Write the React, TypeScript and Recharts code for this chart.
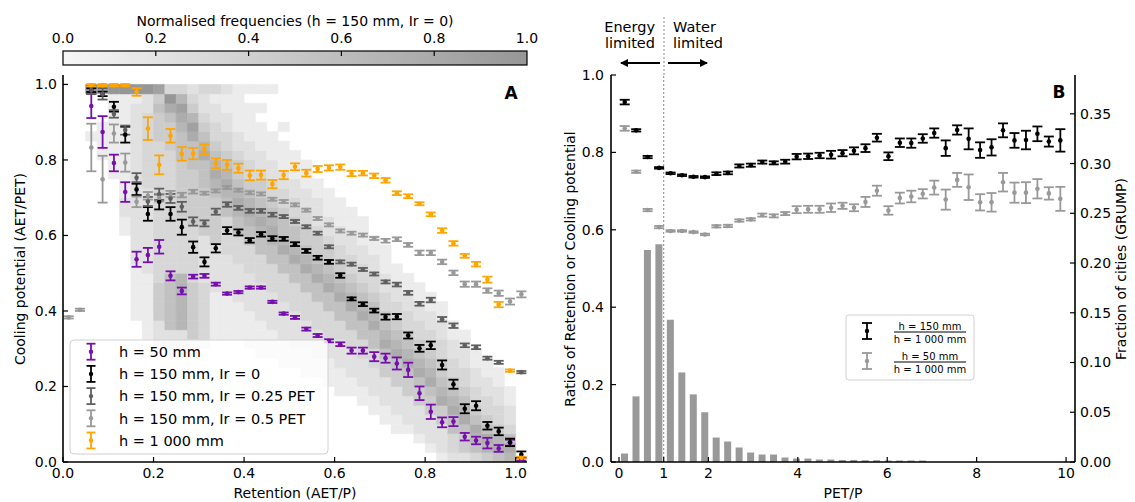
import React from 'react'
import {
  ScatterChart, ComposedChart, Scatter, Bar, XAxis, YAxis, ErrorBar, ReferenceArea, ReferenceLine,
} from 'recharts'

const FONT = 'DejaVu Sans, sans-serif'

// ---- panel A : retention bins (AET/P), bin centres ----
const retention = [0.0125, 0.0375, 0.0625, 0.0875, 0.1125, 0.1375, 0.1625, 0.1875, 0.2125, 0.2375, 0.2625,
  0.2875, 0.3125, 0.3375, 0.3625, 0.3875, 0.4125, 0.4375, 0.4625, 0.4875, 0.5125, 0.5375, 0.5625, 0.5875,
  0.6125, 0.6375, 0.6625, 0.6875, 0.7125, 0.7375, 0.7625, 0.7875, 0.8125, 0.8375, 0.8625, 0.8875, 0.9125,
  0.9375, 0.9625, 0.9875, 1.0125]

const h50 = [null, null, 0.943, 0.874, 0.792, 0.715, 0.537, 0.548, 0.570, 0.493, 0.453, 0.491, 0.493, 0.471, 0.446,
  0.450, 0.462, 0.462, 0.424, 0.393, 0.383, 0.352, 0.335, 0.321, 0.312, 0.295, 0.295, 0.279, 0.275, 0.261, 0.244,
  0.182, 0.133, 0.105, 0.107, 0.067, 0.057, 0.050, 0.036, 0.051, 0.007]
const h50Err = [null, null, 0.032, 0.042, 0.022, 0.026, 0.020, 0.019, 0.018, 0.012, 0.009, 0.005, 0.005, 0.004, 0.003,
  0.003, 0.003, 0.003, 0.003, 0.003, 0.004, 0.004, 0.004, 0.004, 0.005, 0.008, 0.008, 0.012, 0.012, 0.016, 0.019,
  0.018, 0.019, 0.013, 0.012, 0.010, 0.010, 0.014, 0.009, 0.008, 0.004]

const h150 = [null, null, 0.985, 0.975, 0.941, 0.867, 0.722, 0.657, 0.689, 0.657, 0.622, 0.569, 0.530, 0.566, 0.613,
  0.608, 0.587, 0.603, 0.592, 0.591, 0.577, 0.559, 0.541, 0.530, 0.494, 0.432, 0.418, 0.401, 0.384, 0.385, 0.335,
  0.301, 0.309, 0.257, 0.206, 0.141, 0.149, 0.096, 0.081, 0.052, 0.020]
const h150Err = [null, null, 0.005, 0.006, 0.013, 0.021, 0.015, 0.018, 0.020, 0.018, 0.020, 0.015, 0.012, 0.011, 0.009,
  0.008, 0.006, 0.006, 0.006, 0.005, 0.005, 0.005, 0.005, 0.005, 0.006, 0.004, 0.005, 0.005, 0.007, 0.007, 0.008,
  0.009, 0.010, 0.012, 0.012, 0.012, 0.012, 0.010, 0.010, 0.010, 0.008]

const ir25 = [null, null, 0.985, 0.975, 0.922, 0.879, 0.753, 0.690, 0.709, 0.698, 0.676, 0.637, 0.632, 0.663, 0.682,
  0.673, 0.665, 0.665, 0.655, 0.650, 0.637, 0.623, 0.606, 0.570, 0.530, 0.524, 0.510, 0.498, 0.477, 0.470, 0.448,
  0.419, 0.429, 0.378, 0.361, 0.309, 0.304, 0.275, 0.264, null, 0.238]
const ir25Err = [null, null, 0.010, 0.015, 0.010, 0.012, 0.012, 0.012, 0.015, 0.012, 0.013, 0.011, 0.008, 0.008, 0.006,
  0.005, 0.005, 0.005, 0.005, 0.004, 0.004, 0.004, 0.004, 0.004, 0.004, 0.004, 0.004, 0.004, 0.004, 0.005, 0.005,
  0.005, 0.006, 0.006, 0.006, 0.005, 0.005, 0.004, 0.004, null, 0.003]

const ir50 = [0.383, 0.403, 0.833, 0.749, 0.870, 0.793, 0.689, 0.705, 0.700, 0.710, 0.707, 0.716, 0.712, 0.718, 0.727,
  0.720, 0.713, 0.710, 0.696, 0.690, 0.681, 0.667, 0.645, 0.628, 0.612, 0.606, 0.601, 0.592, 0.586, 0.590, 0.575,
  0.554, 0.554, 0.530, 0.501, 0.471, 0.471, 0.454, 0.447, 0.425, 0.444]
const ir50Err = [0.003, 0.003, 0.063, 0.062, 0.024, 0.024, 0.014, 0.010, 0.010, 0.008, 0.006, 0.005, 0.004, 0.004, 0.004,
  0.004, 0.004, 0.004, 0.004, 0.004, 0.004, 0.004, 0.004, 0.004, 0.004, 0.004, 0.004, 0.004, 0.005, 0.005, 0.005,
  0.006, 0.006, 0.006, 0.006, 0.007, 0.007, 0.006, 0.007, 0.008, 0.008]

const h1000 = [null, null, 0.998, 0.998, 0.998, 0.998, 0.980, 0.883, 0.787, 0.864, 0.816, 0.817, 0.828, 0.791, 0.787,
  0.778, 0.759, 0.760, 0.736, 0.760, 0.782, 0.765, 0.776, 0.779, 0.781, 0.764, 0.765, 0.758, 0.746, 0.712, 0.704,
  0.684, 0.656, 0.613, 0.579, 0.546, 0.524, 0.483, 0.417, 0.242, 0.011]
const h1000Err = [null, null, 0.003, 0.003, 0.003, 0.003, 0.010, 0.030, 0.025, 0.018, 0.018, 0.015, 0.013, 0.013, 0.013,
  0.012, 0.013, 0.012, 0.011, 0.011, 0.009, 0.009, 0.008, 0.007, 0.007, 0.007, 0.006, 0.006, 0.006, 0.005, 0.005,
  0.004, 0.005, 0.006, 0.006, 0.005, 0.006, 0.008, 0.007, 0.003, 0.003]

// heatmap, one string per retention column (0.025 wide), rows from y=0 upwards (0.025 high), 0-9 shade
const heatCols = [
  '0000000000 0000000000 0000000000 0000000000 0',
  '0000000000 0000000000 0000000000 0000000000 0',
  '0000000000 0000000000 0000000000 0000100009 0',
  '0000000000 0000000000 0000000000 0011110007 2',
  '0000000000 0000000000 0000000000 1111111119 0',
  '0000000000 0000000000 0000112211 1111111119 0',
  '0000000000 0000011111 1222222222 2222222219 1',
  '0000000000 0001111111 2222222223 3333333229 1',
  '0000000000 0022244443 3333333333 3333444548 1',
  '0000000000 0022555555 3333333333 3334445793 0',
  '0000000000 0222666666 3333334444 4455567863 0',
  '0000000000 0114444443 3333344444 4555786432 0',
  '0000000000 0013333332 2222444445 5576543223 0',
  '0000000000 0001111122 2224444456 7654332213 0',
  '0000000000 0001111122 2233335567 6543322112 0',
  '0000000000 0001111222 2333556765 4432211111 0',
  '0000000000 0011112222 3335567654 3322111101 0',
  '0000000000 0111122223 3355676544 3221110101 0',
  '0000000000 0111222233 3556765433 2211100001 0',
  '0000000000 1112222333 5576554332 2111010000 0',
  '0000000000 1122223335 5765543322 1110000000 0',
  '0000000001 1122233355 7654433221 1100000000 0',
  '0000000001 1222333557 6544322211 0000000000 0',
  '0000000011 1223335576 5443221110 0000000000 0',
  '0000000111 2223355765 4332211100 0000000000 0',
  '0000000112 2233557654 3322111000 0000000000 0',
  '0000001122 2335576543 3221110000 0000000000 0',
  '0000011222 3355765433 2211000000 0000000000 0',
  '0000112224 4576543322 1110000000 0000000000 0',
  '0001122244 5765433221 1000000000 0000000000 0',
  '0001222445 7654332211 0000000000 0000000000 0',
  '0012224457 6543322110 0000000000 0000000000 0',
  '0122244576 5433221100 0000000000 0000000000 0',
  '1222447654 4332211000 0000000000 0000000000 0',
  '2335576543 3221100000 0000000000 0000000000 0',
  '2445765433 2211000000 0000000000 0000000000 0',
  '3567543322 1100000000 0000000000 0000000000 0',
  '4675433221 1000000000 0000000000 0000000000 0',
  '5764332211 0000000000 0000000000 0000000000 0',
  '6753221100 0000000000 0000000000 0000000000 0',
  '7532110000 0000000000 0000000000 0000000000 0',
]
const cellSize = 0.025

// ---- panel B : PET/P bins ----
const petP = [0.128, 0.385, 0.641, 0.897, 1.154, 1.410, 1.667, 1.923, 2.179, 2.436, 2.692, 2.949, 3.205, 3.462,
  3.718, 3.974, 4.231, 4.487, 4.744, 5.000, 5.256, 5.513, 5.769, 6.026, 6.282, 6.538, 6.795, 7.051, 7.308, 7.564,
  7.821, 8.077, 8.333, 8.590, 8.846, 9.103, 9.359, 9.615, 9.872]
const ratio150 = [0.930, 0.857, 0.788, 0.760, 0.746, 0.741, 0.737, 0.736, 0.745, 0.747, 0.765, 0.767, 0.775, 0.773,
  0.776, 0.789, 0.790, 0.792, 0.794, 0.798, 0.804, 0.811, 0.838, 0.790, 0.825, 0.824, 0.836, 0.850, 0.811, 0.858,
  0.835, 0.806, 0.813, 0.857, 0.831, 0.832, 0.848, 0.828, 0.831]
const ratio150Err = [0.006, 0.003, 0.003, 0.002, 0.002, 0.002, 0.002, 0.002, 0.0035, 0.0035, 0.004, 0.004, 0.004, 0.004,
  0.005, 0.007, 0.007, 0.007, 0.010, 0.008, 0.009, 0.010, 0.010, 0.010, 0.011, 0.012, 0.011, 0.012, 0.020, 0.012,
  0.027, 0.020, 0.021, 0.018, 0.019, 0.024, 0.019, 0.013, 0.029]
const ratio50 = [0.862, 0.750, 0.651, 0.607, 0.597, 0.597, 0.594, 0.588, 0.609, 0.610, 0.624, 0.627, 0.638, 0.636,
  0.642, 0.652, 0.653, 0.653, 0.657, 0.662, 0.657, 0.672, 0.701, 0.650, 0.682, 0.686, 0.693, 0.709, 0.678, 0.729,
  0.710, 0.671, 0.671, 0.723, 0.696, 0.696, 0.706, 0.694, 0.680]
const ratio50Err = [0.006, 0.003, 0.003, 0.003, 0.002, 0.002, 0.002, 0.002, 0.003, 0.003, 0.003, 0.003, 0.004, 0.004,
  0.004, 0.009, 0.009, 0.009, 0.011, 0.008, 0.009, 0.013, 0.013, 0.011, 0.014, 0.015, 0.012, 0.018, 0.026, 0.018,
  0.033, 0.021, 0.024, 0.024, 0.026, 0.027, 0.025, 0.016, 0.031]
const cityFrac = [0.0085, 0.066, 0.213, 0.219, 0.143, 0.090, 0.068, 0.050, 0.0246, 0.0206, 0.0146, 0.0095, 0.0075,
  0.0075, 0.0045, 0.0035, 0.0035, 0.0025, 0.0025, 0.002, 0.002, 0.0018, 0.0018, 0.0015, 0.0015, 0.0015, 0.0015,
  0, 0, 0, 0, 0, 0, 0, 0, 0, 0, 0, 0]

const ticksA = [0, 0.2, 0.4, 0.6, 0.8, 1.0]
const ticksBx = [0, 1, 2, 4, 6, 8, 10]
const ticksBl = [0, 0.2, 0.4, 0.6, 0.8, 1.0]
const ticksBr = [0, 0.05, 0.1, 0.15, 0.2, 0.25, 0.3, 0.35]
const cbarTicks = [0, 0.2, 0.4, 0.6, 0.8, 1.0]

const PURPLE = '#7510ad'
const ORANGE = '#ffa500'
const DARKGRAY = '#5f5f5f'
const LIGHTGRAY = '#999999'

const seriesA = [
  { name: 'h = 50 mm', color: PURPLE, y: h50, e: h50Err },
  { name: 'h = 150 mm, Ir = 0', color: '#000000', y: h150, e: h150Err },
  { name: 'h = 150 mm, Ir = 0.25 PET', color: DARKGRAY, y: ir25, e: ir25Err },
  { name: 'h = 150 mm, Ir = 0.5 PET', color: LIGHTGRAY, y: ir50, e: ir50Err },
  { name: 'h = 1 000 mm', color: ORANGE, y: h1000, e: h1000Err },
]

const shade = (d: number) => {
  const g = Math.round(247 - (d / 9) * 97)
  return `rgb(${g},${g},${g})`
}

const heatCells = heatCols.flatMap((col, k) =>
  col.replace(/ /g, '').split('').map((c, j) => ({ k, j, d: Number(c) })).filter((c) => c.d > 0))

const barData = petP.map((x, i) => ({ x, frac: cityFrac[i] }))
const b150 = petP.map((x, i) => ({ x, y: ratio150[i], e: ratio150Err[i] }))
const b50 = petP.map((x, i) => ({ x, y: ratio50[i], e: ratio50Err[i] }))

const tickStyle = { fill: '#000', fontSize: 14, fontFamily: FONT }
const axisLine = { stroke: '#000', strokeWidth: 1.6 }
const tickLine = { stroke: '#000', strokeWidth: 1.2 }

const dot = (color: string, r = 2.3) => (p: any) => <circle cx={p.cx} cy={p.cy} r={r} fill={color} />

function ErrIcon({ x, y, color, half = 8, cap = 4.5 }: { x: number; y: number; color: string; half?: number; cap?: number }) {
  return (
    <g stroke={color} strokeWidth={1.8}>
      <line x1={x} x2={x} y1={y - half} y2={y + half} />
      <line x1={x - cap} x2={x + cap} y1={y - half} y2={y - half} />
      <line x1={x - cap} x2={x + cap} y1={y + half} y2={y + half} />
      <circle cx={x} cy={y} r={2.2} fill={color} stroke="none" />
    </g>
  )
}

function Fraction({ x, y, top, bottom }: { x: number; y: number; top: string; bottom: string }) {
  return (
    <g fontSize={10} fontFamily={FONT} textAnchor="middle">
      <text x={x} y={y - 2.5}>{top}</text>
      <line x1={x - 36} x2={x + 36} y1={y} y2={y} stroke="#000" strokeWidth={1} />
      <text x={x} y={y + 10.5}>{bottom}</text>
    </g>
  )
}

export default function App() {
  return (
    <div style={{ position: 'absolute', left: 0, top: 0, width: 1135, height: 502, background: '#fff', fontFamily: FONT }}>
      <div style={{ position: 'absolute', left: 0, top: 0 }}>
        <ScatterChart width={560} height={502} margin={{ top: 75, right: 33, bottom: 0, left: 0 }}>
          <XAxis type="number" dataKey="x" domain={[0, 1.025]} ticks={ticksA} allowDataOverflow
            tickFormatter={(v: number) => v.toFixed(1)} height={40} tickSize={-5} tickMargin={11}
            tick={tickStyle} axisLine={axisLine} tickLine={tickLine} />
          <YAxis type="number" dataKey="y" domain={[0, 1.025]} ticks={ticksA} allowDataOverflow
            tickFormatter={(v: number) => v.toFixed(1)} width={63} tickSize={-5} tickMargin={11}
            tick={tickStyle} axisLine={axisLine} tickLine={tickLine} />
          <XAxis xAxisId="top" orientation="top" type="number" domain={[0, 1]} height={0} tick={false}
            tickLine={false} axisLine={axisLine} />
          <YAxis yAxisId="right" orientation="right" type="number" domain={[0, 1]} width={0} tick={false}
            tickLine={false} axisLine={axisLine} />
          {heatCells.map((c) => (
            <ReferenceArea key={`h-${c.k}-${c.j}`} x1={c.k * cellSize} x2={(c.k + 1) * cellSize}
              y1={c.j * cellSize} y2={(c.j + 1) * cellSize} fill={shade(c.d)} fillOpacity={1}
              stroke={shade(c.d)} strokeWidth={0.6} />
          ))}
          {seriesA.map((s) => (
            <Scatter key={s.name} name={s.name} isAnimationActive={false} shape={dot(s.color)}
              data={retention.map((x, i) => ({ x, y: s.y[i], e: s.e[i] })).filter((p) => p.y !== null)}>
              <ErrorBar dataKey="e" direction="y" width={5} stroke={s.color} strokeWidth={1.8} />
            </Scatter>
          ))}
        </ScatterChart>
      </div>

      <div style={{ position: 'absolute', left: 560, top: 0 }}>
        <ComposedChart width={575} height={502} data={barData} margin={{ top: 75, right: 0, bottom: 0, left: 0 }}>
          <XAxis type="number" dataKey="x" domain={[-0.179, 10.2]} ticks={ticksBx} allowDataOverflow
            height={40} tickSize={-5} tickMargin={11} tick={tickStyle} axisLine={axisLine} tickLine={tickLine} />
          <XAxis xAxisId="top" orientation="top" type="number" domain={[0, 1]} height={0} tick={false}
            tickLine={false} axisLine={axisLine} />
          <YAxis yAxisId="l" type="number" domain={[0, 1]} ticks={ticksBl} allowDataOverflow
            tickFormatter={(v: number) => v.toFixed(1)} width={51} tickSize={-5} tickMargin={12}
            tick={tickStyle} axisLine={axisLine} tickLine={tickLine} />
          <YAxis yAxisId="r" orientation="right" type="number" domain={[0, 0.389]} ticks={ticksBr} allowDataOverflow
            tickFormatter={(v: number) => v.toFixed(2)} width={60} tickSize={-5} tickMargin={10}
            tick={tickStyle} axisLine={axisLine} tickLine={tickLine} />
          <Bar yAxisId="r" dataKey="frac" fill="#999999" barSize={7} isAnimationActive={false} />
          <ReferenceLine yAxisId="l" x={1} stroke="#888" strokeDasharray="2 2" strokeWidth={1} />
          <Scatter yAxisId="l" data={b150} dataKey="y" isAnimationActive={false} shape={dot('#000000')}>
            <ErrorBar dataKey="e" direction="y" width={5} stroke="#000000" strokeWidth={1.8} />
          </Scatter>
          <Scatter yAxisId="l" data={b50} dataKey="y" isAnimationActive={false} shape={dot('#999999')}>
            <ErrorBar dataKey="e" direction="y" width={5} stroke="#999999" strokeWidth={1.8} />
          </Scatter>
        </ComposedChart>
      </div>

      <svg width={1135} height={502} style={{ position: 'absolute', left: 0, top: 0, pointerEvents: 'none' }}
        fontFamily={FONT}>
        <defs>
          <linearGradient id="cbar" x1="0" x2="1" y1="0" y2="0">
            <stop offset="0" stopColor={shade(0)} />
            <stop offset="1" stopColor={shade(9)} />
          </linearGradient>
          <marker id="arrow" markerWidth="8" markerHeight="8" refX="7" refY="4" orient="auto" markerUnits="userSpaceOnUse">
            <path d="M0,0 L8,4 L0,8 z" fill="#000" />
          </marker>
        </defs>

        {/* colour bar */}
        <text x={295} y={26} fontSize={14} textAnchor="middle">Normalised frequencies (h = 150 mm, Ir = 0)</text>
        <rect x={63} y={51} width={464} height={14} fill="url(#cbar)" stroke="#000" strokeWidth={1.2} />
        {cbarTicks.map((t) => (
          <g key={t}>
            {t > 0 && t < 1 && <line x1={63 + 464 * t} x2={63 + 464 * t} y1={51} y2={56} stroke="#000" strokeWidth={1.2} />}
            <text x={63 + 464 * t} y={43} fontSize={14} textAnchor="middle">{t.toFixed(1)}</text>
          </g>
        ))}

        {/* axis titles */}
        <text x={295} y={498} fontSize={14} textAnchor="middle">Retention (AET/P)</text>
        <text transform="translate(25,269) rotate(-90)" fontSize={14} textAnchor="middle">Cooling potential (AET/PET)</text>
        <text x={843} y={498} fontSize={14} textAnchor="middle">PET/P</text>
        <text transform="translate(575,269) rotate(-90)" fontSize={14} textAnchor="middle">Ratios of Retention or Cooling potential</text>
        <text transform="translate(1126,269) rotate(-90)" fontSize={14} textAnchor="middle">Fraction of cities (GRUMP)</text>

        <text x={511} y={99} fontSize={17} fontWeight="bold" textAnchor="middle">A</text>
        <text x={1059} y={98} fontSize={17} fontWeight="bold" textAnchor="middle">B</text>

        {/* energy / water limited */}
        <line x1={664} x2={664} y1={17} y2={75} stroke="#888" strokeDasharray="2 2" strokeWidth={1} />
        <text x={655} y={32} fontSize={14.5} textAnchor="end">Energy</text>
        <text x={655} y={48} fontSize={14.5} textAnchor="end">limited</text>
        <text x={673} y={32} fontSize={14.5}>Water</text>
        <text x={673} y={48} fontSize={14.5}>limited</text>
        <line x1={660} x2={621} y1={63} y2={63} stroke="#000" strokeWidth={2} markerEnd="url(#arrow)" />
        <line x1={668} x2={707} y1={63} y2={63} stroke="#000" strokeWidth={2} markerEnd="url(#arrow)" />

        {/* legend A */}
        <rect x={70} y={340} width={258} height={114} rx={4} fill="#fff" fillOpacity={0.8} stroke="#d0d0d0" strokeWidth={1} />
        {seriesA.map((s, i) => (
          <g key={s.name}>
            <ErrIcon x={91} y={351.7 + i * 22.2} color={s.color} />
            <text x={119} y={357 + i * 22.2} fontSize={14.5}>{s.name}</text>
          </g>
        ))}

        {/* legend B */}
        <rect x={846} y={315} width={128} height={65} rx={3} fill="#fff" fillOpacity={0.8} stroke="#d0d0d0" strokeWidth={1} />
        <ErrIcon x={867} y={331} color="#000000" cap={5} />
        <Fraction x={930} y={332} top="h = 150 mm" bottom="h = 1 000 mm" />
        <ErrIcon x={867} y={361} color="#999999" cap={5} />
        <Fraction x={930} y={362} top="h = 50 mm" bottom="h = 1 000 mm" />
      </svg>
    </div>
  )
}
